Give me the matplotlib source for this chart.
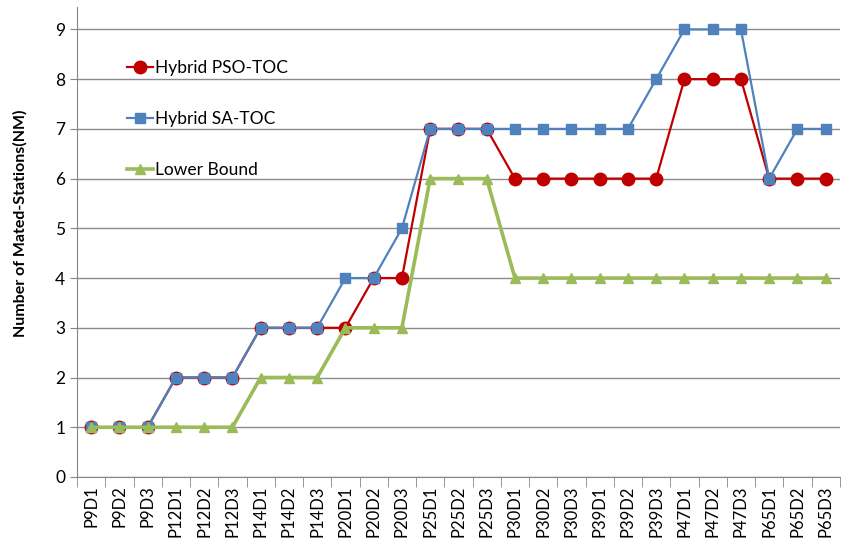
import numpy as np
import matplotlib
matplotlib.use("Agg")
import matplotlib.pyplot as plt

plt.rcParams['font.family'] = ['Lato', 'DejaVu Sans']

cases = ["P9D1", "P9D2", "P9D3", "P12D1", "P12D2", "P12D3",
         "P14D1", "P14D2", "P14D3", "P20D1", "P20D2", "P20D3",
         "P25D1", "P25D2", "P25D3", "P30D1", "P30D2", "P30D3",
         "P39D1", "P39D2", "P39D3", "P47D1", "P47D2", "P47D3",
         "P65D1", "P65D2", "P65D3"]
pso_toc = [1, 1, 1, 2, 2, 2, 3, 3, 3, 3, 4, 4, 7, 7, 7, 6, 6, 6,
           6, 6, 6, 8, 8, 8, 6, 6, 6]
sa_toc = [1, 1, 1, 2, 2, 2, 3, 3, 3, 4, 4, 5, 7, 7, 7, 7, 7, 7,
          7, 7, 8, 9, 9, 9, 6, 7, 7]
lower_bound = [1, 1, 1, 1, 1, 1, 2, 2, 2, 3, 3, 3, 6, 6, 6, 4, 4, 4,
               4, 4, 4, 4, 4, 4, 4, 4, 4]

fig = plt.figure(figsize=(8.41, 5.42), dpi=100)
ax = fig.add_axes([0.0916, 0.12, 0.907, 0.867])

x = np.arange(len(cases))
ax.plot(x, pso_toc, color='#C00000', lw=1.6, marker='o', ms=9,
        label='Hybrid PSO-TOC', zorder=3)
ax.plot(x, sa_toc, color='#4F81BD', lw=1.6, marker='s', ms=6.5,
        label='Hybrid SA-TOC', zorder=4)
ax.plot(x, lower_bound, color='#9BBB59', lw=2.6, marker='^', ms=7.5,
        label='Lower Bound', zorder=5)

ax.set_xlim(-0.5, len(cases) - 0.5)
ax.set_ylim(0, 9.45)
ax.set_yticks(range(0, 10))
ax.tick_params(axis='y', labelsize=12.5, length=5, color='#868686')
ax.yaxis.grid(True, color='#8c8c8c', lw=1)
ax.set_axisbelow(True)

# category labels centred, ticks on the boundaries
ax.set_xticks(x)
ax.set_xticklabels(cases, rotation=90, fontsize=12)
ax.tick_params(axis='x', length=0, pad=6)
ax.set_xticks(np.arange(-0.5, len(cases)), minor=True)
ax.tick_params(axis='x', which='minor', length=7, color='#868686')

for s in ['top', 'right']:
    ax.spines[s].set_visible(False)
ax.spines['left'].set_color('#868686')
ax.spines['bottom'].set_color('#868686')

ax.set_ylabel('Number of Mated-Stations(NM)', fontsize=11.5, fontweight='bold')
ax.yaxis.set_label_coords(-0.065, 0.54)

ax.legend(loc='upper left', bbox_to_anchor=(0.045, 0.92), frameon=False,
          fontsize=12.5, labelspacing=2.0, handlelength=1.5, handletextpad=0.1)

plt.savefig('out.png', dpi=100)
